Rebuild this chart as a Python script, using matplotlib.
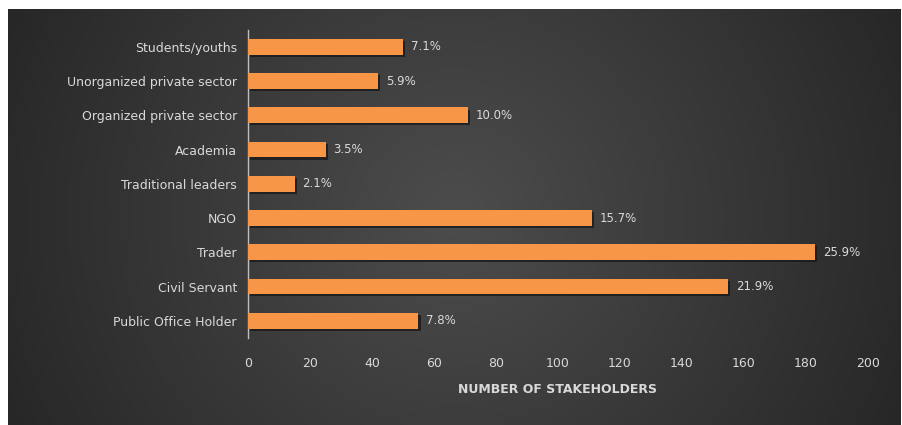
import numpy as np
import matplotlib
matplotlib.use("Agg")
import matplotlib.pyplot as plt
import matplotlib.patheffects as pe

# data (top to bottom as in the chart)
categories = ["Students/youths", "Unorganized private sector", "Organized private sector",
              "Academia", "Traditional leaders", "NGO", "Trader", "Civil Servant",
              "Public Office Holder"]
counts = [50, 42, 71, 25, 15, 111, 183, 155, 55]
percent_labels = ["7.1%", "5.9%", "10.0%", "3.5%", "2.1%", "15.7%", "25.9%", "21.9%", "7.8%"]
x_ticks = [0, 20, 40, 60, 80, 100, 120, 140, 160, 180, 200]

text_col = "#d9d9d9"
bar_col = "#f79646"

fig = plt.figure(figsize=(9.02, 4.25), dpi=100)
fig.patch.set_facecolor("white")

# dark gradient background panel
bg = fig.add_axes([0.009, 0.0, 0.989, 0.979])
xs = np.linspace(-1, 1, 400)
ys = np.linspace(-1, 1, 200)
X, Y = np.meshgrid(xs, ys)
r = np.sqrt((X * 0.95) ** 2 + (Y * 0.45) ** 2)
shade = 0.30 - 0.14 * np.clip(r, 0, 1.2)
bg.imshow(np.dstack([shade, shade, shade]), aspect="auto", extent=[0, 1, 0, 1])
bg.set_axis_off()

ax = fig.add_axes([0.275, 0.205, 0.687, 0.725])
ax.patch.set_alpha(0)
y = np.arange(len(categories))
bars = ax.barh(y, counts, height=0.46, color=bar_col, zorder=3)
for b in bars:
    b.set_path_effects([pe.SimplePatchShadow(offset=(1.5, -1.5), shadow_rgbFace="#1a1a1a", alpha=0.8),
                        pe.Normal()])

for yi, c, lab in zip(y, counts, percent_labels):
    ax.text(c + 2.5, yi, lab, va="center", ha="left", color=text_col, fontsize=8.5)

ax.set_yticks(y)
ax.set_yticklabels(categories)
ax.set_ylim(len(categories) - 0.5, -0.5)
ax.set_xlim(0, 200)
ax.set_xticks(x_ticks)
ax.tick_params(axis="both", length=0, colors=text_col, labelsize=9)
ax.tick_params(axis="x", pad=14)
ax.tick_params(axis="y", pad=8)
for s in ["top", "right", "bottom"]:
    ax.spines[s].set_visible(False)
ax.spines["left"].set_color("#bfbfbf")
ax.spines["left"].set_linewidth(1)
ax.set_xlabel("NUMBER OF STAKEHOLDERS", color=text_col, fontsize=9, fontweight="bold", labelpad=9)

fig.savefig("out.png", dpi=100)
